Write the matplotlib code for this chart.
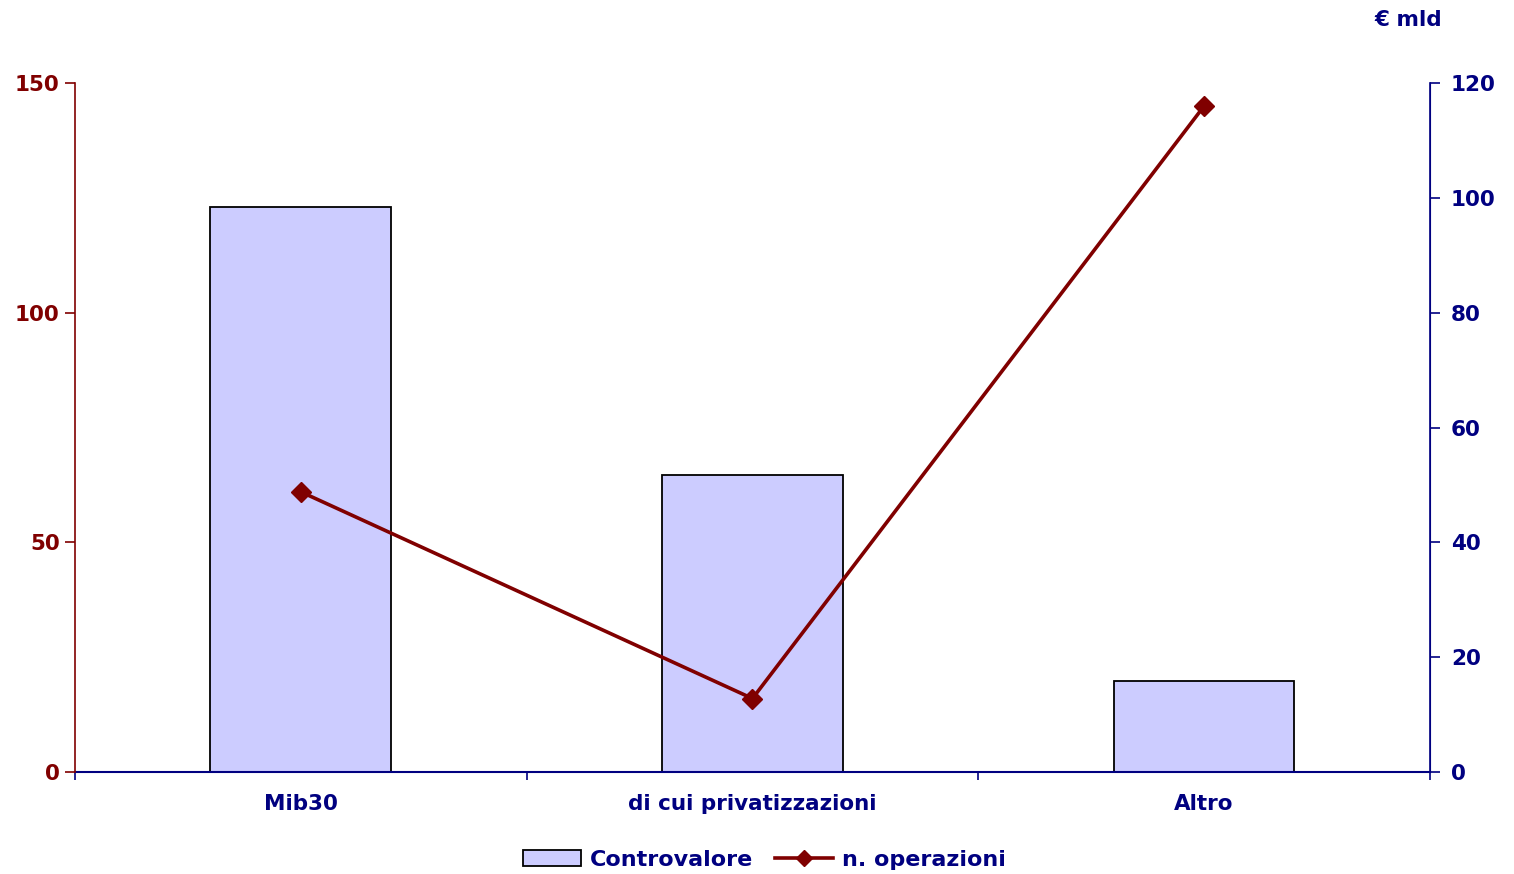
import matplotlib
matplotlib.use("Agg")
import matplotlib.pyplot as plt
from matplotlib.lines import Line2D
from matplotlib.patches import Patch

# ── dati ──────────────────────────────────────────────────
categories   = ["Mib30", "di cui privatizzazioni", "Altro"]
controvalore = [98.4, 51.7, 15.9]      # € mld, asse destro
n_operazioni = [61, 16, 145]           # asse sinistro

RED  = "#800000"
NAVY = "#000080"
BAR  = "#CCCCFF"
FS   = 15.5

plt.rcParams["font.family"] = ["DejaVu Sans"]
plt.rcParams["font.weight"] = "bold"

fig = plt.figure(figsize=(15.14, 8.74), dpi=100)
ax = fig.add_axes([0.0495, 0.1167, 0.895, 0.7883])
ax2 = ax.twinx()

x = list(range(len(categories)))
ax.bar(x, controvalore, width=0.4, color=BAR, edgecolor="black", linewidth=1.3, zorder=2)
ax.set_ylim(0, 120)
ax.set_xlim(-0.5, 2.5)
ax.yaxis.tick_right()
ax.set_yticks(range(0, 121, 20))

ax2.plot(x, n_operazioni, color=RED, linewidth=2.6, marker="D", markersize=10,
         markerfacecolor=RED, markeredgecolor=RED, zorder=3)
ax2.set_ylim(0, 150)
ax2.yaxis.tick_left()
ax2.set_yticks([0, 50, 100, 150])

# stile assi
for a in (ax, ax2):
    a.spines["top"].set_visible(False)
ax.spines["left"].set_visible(False)
ax2.spines["left"].set_color(RED)
ax2.spines["left"].set_linewidth(1.2)
ax2.spines["right"].set_color(NAVY)
ax2.spines["right"].set_linewidth(1.2)
ax.spines["right"].set_color(NAVY)
ax2.spines["bottom"].set_visible(False)
ax.spines["bottom"].set_color(NAVY)
ax.spines["bottom"].set_linewidth(1.5)

ax.tick_params(axis="y", colors=NAVY, labelsize=FS, length=7, width=1.2, pad=8)
ax2.tick_params(axis="y", colors=RED, labelsize=FS, length=7, width=1.2, pad=4)
for lab in ax.get_yticklabels() + ax2.get_yticklabels():
    lab.set_fontweight("bold")

# tick x ai confini delle categorie, etichette al centro
ax.set_xticks([-0.5, 0.5, 1.5, 2.5])
ax.set_xticklabels([])
ax.set_xticks(x, minor=True)
ax.set_xticklabels(categories, minor=True, fontsize=FS, fontweight="bold", color=NAVY)
ax.tick_params(axis="x", which="major", colors=NAVY, length=6, width=1.2, direction="out")
ax.tick_params(axis="x", which="minor", length=0, pad=16)

fig.text(0.930, 0.977, "€ mld", color=NAVY, fontsize=FS, fontweight="bold",
         ha="center", va="center")

handles = [Patch(facecolor=BAR, edgecolor="black", linewidth=1.3),
           Line2D([0], [0], color=RED, linewidth=2.6, marker="D", markersize=8)]
leg = fig.legend(handles, ["Controvalore", "n. operazioni"], loc="center",
                 bbox_to_anchor=(0.505, 0.016), ncol=2, frameon=False,
                 prop={"size": 16, "weight": "bold"}, handlelength=2.6,
                 columnspacing=1.0, handletextpad=0.4)
for t in leg.get_texts():
    t.set_color(NAVY)

fig.savefig("out.png", dpi=100)
